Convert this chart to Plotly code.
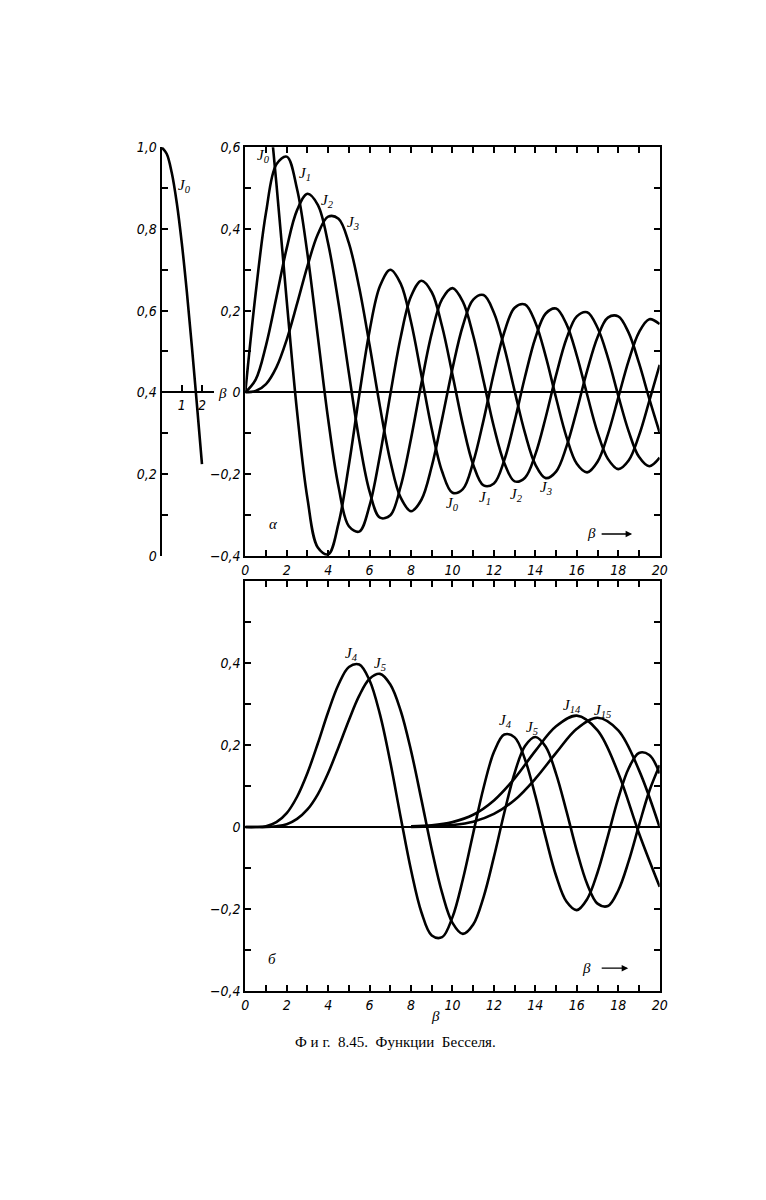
import plotly.graph_objects as go

# ---------------- data ----------------
BETA = [0.0, 0.5, 1.0, 1.5, 2.0, 2.5, 3.0, 3.5, 4.0, 4.5, 5.0, 5.5, 6.0, 6.5, 7.0,
        7.5, 8.0, 8.5, 9.0, 9.5, 10.0, 10.5, 11.0, 11.5, 12.0, 12.5, 13.0, 13.5,
        14.0, 14.5, 15.0, 15.5, 16.0, 16.5, 17.0, 17.5, 18.0, 18.5, 19.0, 19.5, 20.0]

J0 = [1.000, 0.938, 0.765, 0.512, 0.224, -0.048, -0.260, -0.380, -0.397, -0.321,
      -0.178, -0.007, 0.151, 0.260, 0.300, 0.266, 0.172, 0.042, -0.090, -0.194,
      -0.246, -0.237, -0.171, -0.068, 0.048, 0.147, 0.207, 0.215, 0.171, 0.088,
      -0.014, -0.109, -0.175, -0.196, -0.170, -0.103, -0.013, 0.077, 0.147, 0.179, 0.167]
J1 = [0.000, 0.242, 0.440, 0.558, 0.577, 0.497, 0.339, 0.137, -0.066, -0.231,
      -0.328, -0.341, -0.277, -0.154, -0.005, 0.135, 0.235, 0.273, 0.245, 0.161,
      0.043, -0.079, -0.177, -0.228, -0.223, -0.166, -0.070, 0.038, 0.133, 0.193,
      0.205, 0.167, 0.090, -0.006, -0.098, -0.163, -0.188, -0.167, -0.106, -0.021, 0.067]
J2 = [0.000, 0.031, 0.115, 0.232, 0.353, 0.446, 0.486, 0.459, 0.364, 0.218,
      0.047, -0.117, -0.243, -0.307, -0.301, -0.230, -0.113, 0.022, 0.145, 0.228,
      0.255, 0.222, 0.139, 0.028, -0.085, -0.173, -0.218, -0.209, -0.152, -0.061,
      0.042, 0.131, 0.186, 0.196, 0.158, 0.085, -0.008, -0.095, -0.158, -0.181, -0.160]
J3 = [0.000, 0.003, 0.020, 0.061, 0.129, 0.217, 0.309, 0.387, 0.430, 0.425,
      0.365, 0.256, 0.115, -0.035, -0.168, -0.258, -0.291, -0.263, -0.181, -0.065,
      0.058, 0.163, 0.227, 0.238, 0.195, 0.110, 0.003, -0.100, -0.177, -0.210,
      -0.194, -0.133, -0.044, 0.053, 0.135, 0.183, 0.186, 0.146, 0.072, -0.016, -0.099]
J4 = [0.000, 0.000, 0.002, 0.012, 0.034, 0.074, 0.132, 0.204, 0.281, 0.348,
      0.391, 0.397, 0.358, 0.275, 0.158, 0.024, -0.105, -0.208, -0.265, -0.269,
      -0.220, -0.128, -0.015, 0.096, 0.183, 0.226, 0.219, 0.165, 0.076, -0.026,
      -0.119, -0.182, -0.203, -0.176, -0.111, -0.022, 0.070, 0.143, 0.181, 0.176, 0.131]
J5 = [0.000, 0.000, 0.000, 0.002, 0.007, 0.020, 0.043, 0.080, 0.132, 0.195,
      0.261, 0.321, 0.362, 0.374, 0.348, 0.284, 0.186, 0.067, -0.055, -0.161,
      -0.234, -0.261, -0.238, -0.171, -0.073, 0.035, 0.132, 0.198, 0.220, 0.196,
      0.130, 0.039, -0.058, -0.139, -0.187, -0.193, -0.155, -0.084, 0.004, 0.088, 0.151]

BETA_HI = [8, 9, 10, 11, 12, 13, 14, 15, 16, 17, 18, 19, 20]
J14 = [0.002, 0.004, 0.012, 0.030, 0.065, 0.119, 0.186, 0.246, 0.272, 0.236, 0.132, -0.015, -0.146]
J15 = [0.000, 0.002, 0.005, 0.013, 0.032, 0.066, 0.118, 0.181, 0.240, 0.267, 0.236, 0.139, -0.001]

BETA_LEFT = [0.0, 0.25, 0.5, 0.75, 1.0, 1.25, 1.5, 1.75, 2.0]
J0_LEFT = [1.000, 0.984, 0.938, 0.864, 0.765, 0.646, 0.512, 0.369, 0.224]

# tick positions and labels
X_TICKS = [0, 2, 4, 6, 8, 10, 12, 14, 16, 18, 20]
X_TEXT = ['0', '2', '4', '6', '8', '10', '12', '14', '16', '18', '20']
X_MINOR = [1, 3, 5, 7, 9, 11, 13, 15, 17, 19]
Y_TICKS_TOP = [-0.4, -0.2, 0.0, 0.2, 0.4, 0.6]
Y_TEXT_TOP = ['−0,4', '−0,2', '0', '0,2', '0,4', '0,6']
Y_TICKS_BOT = [-0.4, -0.2, 0.0, 0.2, 0.4]
Y_TEXT_BOT = ['−0,4', '−0,2', '0', '0,2', '0,4']
Y_MINOR = [-0.3, -0.1, 0.1, 0.3, 0.5]
Y_MINOR_BOT = [-0.3, -0.1, 0.1, 0.3, 0.5, 0.6]
YL_TICKS = [0.0, 0.2, 0.4, 0.6, 0.8, 1.0]
YL_TEXT = ['0', '0,2', '0,4', '0,6', '0,8', '1,0']
YL_MINOR = [0.1, 0.3, 0.5, 0.7, 0.9]
XL_TICKS = [1, 2]
XL_TEXT = ['1', '2']

# ---------------- layout helpers ----------------
W, H = 766, 1200
OFF = 8  # page body margin of the rendered html


def px(x):
    return (x - OFF) / W


def py(y):
    return 1 - (y - OFF) / H


TICKFONT = dict(family='Liberation Sans Narrow, DejaVu Sans Condensed, Liberation Sans, sans-serif',
                size=14, color='black', style='italic')
LABFONT = dict(family='Liberation Serif, DejaVu Serif, serif', size=15, color='black', style='italic')

fig = go.Figure()
LINE = dict(color='black', width=2.6, shape='spline', smoothing=1.0)

for ys in (J0, J1, J2, J3):
    fig.add_trace(go.Scatter(x=BETA, y=ys, mode='lines', line=LINE, xaxis='x', yaxis='y',
                             hoverinfo='skip', showlegend=False))
for ys in (J4, J5):
    fig.add_trace(go.Scatter(x=BETA, y=ys, mode='lines', line=LINE, xaxis='x2', yaxis='y2',
                             hoverinfo='skip', showlegend=False))
for ys in (J14, J15):
    fig.add_trace(go.Scatter(x=BETA_HI, y=ys, mode='lines', line=LINE, xaxis='x2', yaxis='y2',
                             hoverinfo='skip', showlegend=False))
fig.add_trace(go.Scatter(x=BETA_LEFT, y=J0_LEFT, mode='lines', line=LINE, xaxis='x3', yaxis='y3',
                         hoverinfo='skip', showlegend=False))

AX = dict(showline=True, linecolor='black', linewidth=2, ticks='inside', ticklen=6,
          tickwidth=1.5, tickcolor='black', showgrid=False, tickfont=TICKFONT, fixedrange=True)


def minor(vals):
    return dict(tickmode='array', tickvals=vals, ticks='inside', ticklen=6, tickwidth=1.5,
                tickcolor='black', showgrid=False)


fig.update_layout(
    width=W, height=H, margin=dict(l=0, r=0, t=0, b=0),
    paper_bgcolor='white', plot_bgcolor='white', showlegend=False,
    xaxis=dict(AX, domain=[px(245), px(666)], range=[0, 20], anchor='y', mirror='allticks',
               tickmode='array', tickvals=X_TICKS, ticktext=X_TEXT, minor=minor(X_MINOR),
               zeroline=False),
    yaxis=dict(AX, domain=[py(555), py(141)], range=[-0.4, 0.6], anchor='x', mirror='allticks',
               tickmode='array', tickvals=Y_TICKS_TOP, ticktext=Y_TEXT_TOP, minor=minor(Y_MINOR),
               zeroline=True, zerolinecolor='black', zerolinewidth=1.6),
    xaxis2=dict(AX, domain=[px(245), px(666)], range=[0, 20], anchor='y2', mirror='allticks',
                tickmode='array', tickvals=X_TICKS, ticktext=X_TEXT, minor=minor(X_MINOR),
                zeroline=False),
    yaxis2=dict(AX, domain=[py(996), py(581)], range=[-0.4, 0.6], anchor='x2', mirror='allticks',
                tickmode='array', tickvals=Y_TICKS_BOT, ticktext=Y_TEXT_BOT,
                minor=minor(Y_MINOR_BOT),
                zeroline=True, zerolinecolor='black', zerolinewidth=1.6),
    xaxis3=dict(AX, domain=[px(160), px(213)], range=[0, 2.585], anchor='free', position=py(389),
                tickmode='array', tickvals=XL_TICKS, ticktext=XL_TEXT, zeroline=False, linewidth=1.6),
    yaxis3=dict(AX, domain=[py(555), py(141)], range=[0, 1.0], anchor='x3',
                tickmode='array', tickvals=YL_TICKS, ticktext=YL_TEXT, minor=minor(YL_MINOR),
                zeroline=False),
)

# ---------------- text labels ----------------
LABELS = [
    ('J<sub>0</sub>', 183, 180), ('J<sub>0</sub>', 263, 150), ('J<sub>1</sub>', 306, 168),
    ('J<sub>2</sub>', 329, 195), ('J<sub>3</sub>', 354, 218),
    ('J<sub>0</sub>', 456, 503), ('J<sub>1</sub>', 489, 497), ('J<sub>2</sub>', 521, 493),
    ('J<sub>3</sub>', 551, 486),
    ('J<sub>4</sub>', 353, 655), ('J<sub>5</sub>', 382, 665),
    ('J<sub>4</sub>', 509, 723), ('J<sub>5</sub>', 536, 730),
    ('J<sub>14</sub>', 577, 707), ('J<sub>15</sub>', 608, 712),
]
for txt, x, y in LABELS:
    fig.add_annotation(text=txt, x=px(x), y=py(y), xref='paper', yref='paper',
                       showarrow=False, font=LABFONT, xanchor='center', yanchor='middle')

OTHER = [
    ('β', 222, 390), ('α', 274, 523), ('β', 597, 532),
    ('б', 272, 964), ('β', 592, 973), ('β', 438, 1022),
]
for txt, x, y in OTHER:
    fig.add_annotation(text=txt, x=px(x), y=py(y), xref='paper', yref='paper',
                       showarrow=False, font=LABFONT, xanchor='center', yanchor='middle')

# direction arrows next to β
for x0, x1, y in ((606, 638, 533), (606, 634, 973)):
    fig.add_annotation(text='', x=px(x1), y=py(y), ax=x0 - x1, ay=0, xref='paper', yref='paper',
                       axref='pixel', ayref='pixel', showarrow=True, arrowhead=2, arrowsize=1,
                       arrowwidth=1.3, arrowcolor='black')

fig.add_annotation(text='Ф и г.  8.45.  Функции  Бесселя.', x=px(398), y=py(1048),
                   xref='paper', yref='paper', showarrow=False,
                   font=dict(family='Liberation Serif, DejaVu Serif, serif', size=15, color='black'),
                   xanchor='center', yanchor='middle')

fig.write_html('out.html')
